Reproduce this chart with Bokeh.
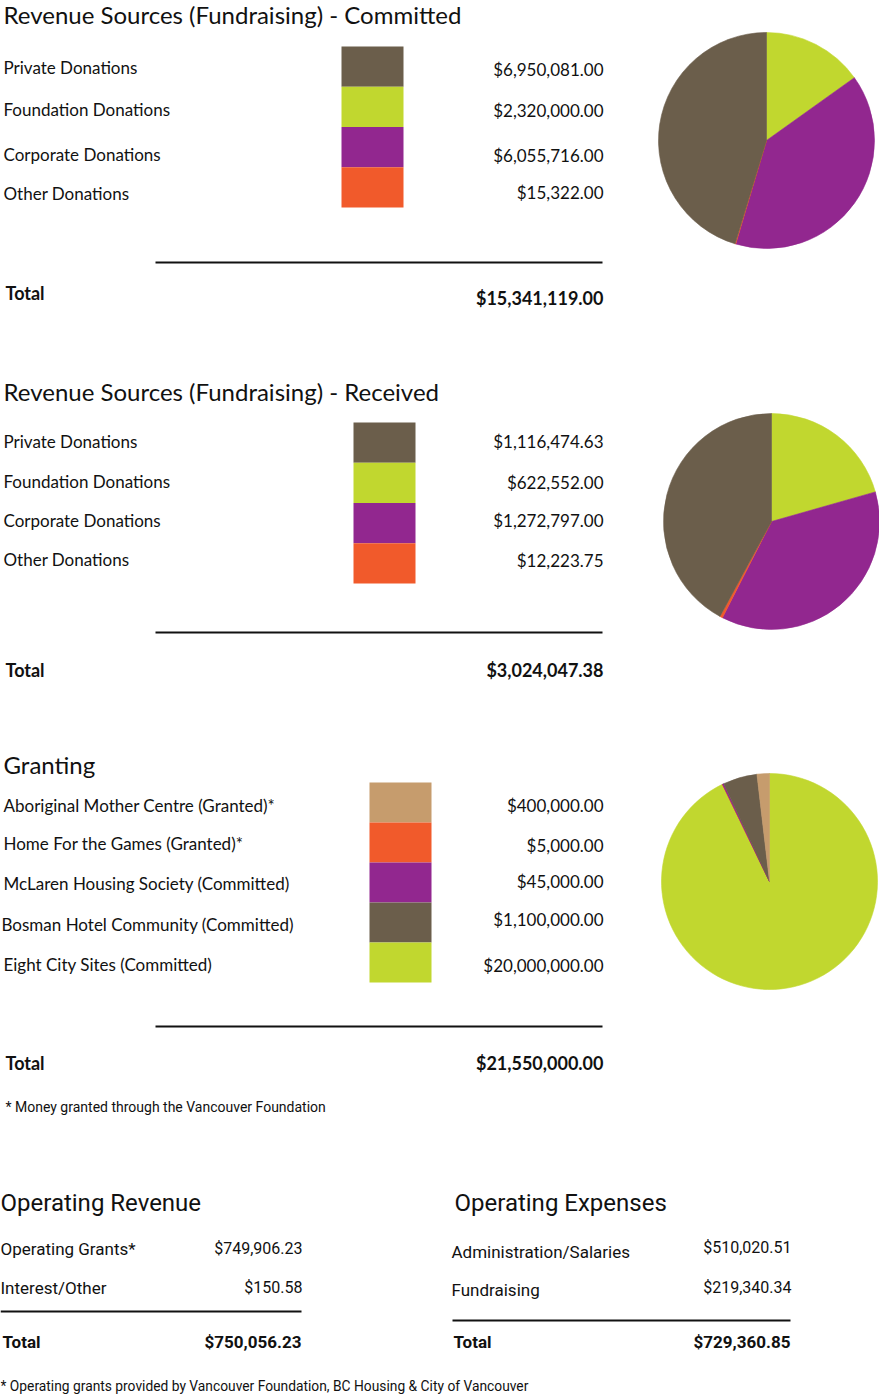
from bokeh.plotting import figure
from bokeh.models import Range1d
from bokeh.core.properties import value
from bokeh.embed import file_html
from bokeh.resources import INLINE
import math

# ---------------- data ----------------
donation_labels = ["Private Donations", "Foundation Donations", "Corporate Donations", "Other Donations"]
committed_values = [6950081.00, 2320000.00, 6055716.00, 15322.00]
committed_total = 15341119.00
received_values = [1116474.63, 622552.00, 1272797.00, 12223.75]
received_total = 3024047.38
donation_colors = ["#6b5e4b", "#c1d72f", "#92278f", "#f15a2b"]
# the received pie in the source shows the private / corporate colours swapped
received_pie_colors = ["#92278f", "#c1d72f", "#6b5e4b", "#f15a2b"]
donation_pie_order = [1, 0, 3, 2]
committed_pie_order = [1, 2, 3, 0]

granting_labels = ["Aboriginal Mother Centre (Granted)*", "Home For the Games (Granted)*",
                   "McLaren Housing Society (Committed)", "Bosman Hotel Community (Committed)",
                   "Eight City Sites (Committed)"]
granting_values = [400000.00, 5000.00, 45000.00, 1100000.00, 20000000.00]
granting_total = 21550000.00
granting_colors = ["#c69c6d", "#f15a2b", "#92278f", "#6b5e4b", "#c1d72f"]
granting_pie_order = [4, 1, 2, 3, 0]

op_rev_labels = ["Operating Grants*", "Interest/Other"]
op_rev_values = [749906.23, 150.58]
op_rev_total = 750056.23
op_exp_labels = ["Administration/Salaries", "Fundraising"]
op_exp_values = [510020.51, 219340.34]
op_exp_total = 729360.85

titles = ["Revenue Sources (Fundraising) - Committed", "Revenue Sources (Fundraising) - Received",
          "Granting", "Operating Revenue", "Operating Expenses"]
footnotes = ["* Money granted through the Vancouver Foundation",
             "* Operating grants provided by Vancouver Foundation, BC Housing & City of Vancouver"]

# ---------------- layout ----------------
W, H = 879, 1395
FONT = "Lato"
COND = "Roboto"
TXT = "#111111"


def Y(py):
    return H - py


def money(v):
    return "${:,.2f}".format(v)


p = figure(width=W, height=H, x_range=Range1d(0, W), y_range=Range1d(0, H),
           x_axis_type=None, y_axis_type=None, toolbar_location=None,
           output_backend="svg", min_border=0)
p.grid.visible = False
p.outline_line_color = None
p.background_fill_color = "white"
p.border_fill_color = "white"


def text(x, y, t, size, font=FONT, bold=False, align="left"):
    p.text(x=[x], y=[Y(y)], text=[t], text_font=value(font), text_font_size=f"{size}px",
           text_font_style="bold" if bold else "normal", text_align=align,
           text_baseline="middle", text_color=TXT)


def section(title, title_y, labels, values, total, colors, pie_colors, order, label_ys, value_ys,
            sw_x, sw_top, sw_h, line_y, total_y, val_total_y, pie_c):
    text(3, title_y, title, 24)
    for lab, ly in zip(labels, label_ys):
        text(3 if not lab.startswith("Bosman") else 1, ly, lab, 17)
    for v, vy in zip(values, value_ys):
        text(603, vy, money(v), 17, align="right")
    n = len(values)
    p.quad(left=[sw_x] * n, right=[sw_x + 62] * n,
           top=[Y(sw_top + i * sw_h) for i in range(n)],
           bottom=[Y(sw_top + (i + 1) * sw_h) for i in range(n)],
           fill_color=colors, line_color=None)
    p.segment(x0=[155], y0=[Y(line_y)], x1=[602], y1=[Y(line_y)], line_color="#111111", line_width=2)
    text(5, total_y, "Total", 18, bold=True)
    text(603, val_total_y, money(total), 18, bold=True, align="right")
    tot = sum(values)
    cum = 0.0
    starts, ends, cols = [], [], []
    for i in order:
        starts.append(math.pi / 2 - 2 * math.pi * cum / tot)
        cum += values[i]
        ends.append(math.pi / 2 - 2 * math.pi * cum / tot)
        cols.append(pie_colors[i])
    k = len(order)
    p.wedge(x=[pie_c[0]] * k, y=[Y(pie_c[1])] * k, radius=108, radius_units="screen",
            start_angle=starts, end_angle=ends, direction="clock",
            fill_color=cols, line_color=cols, line_width=0.6)


section(titles[0], 14, donation_labels, committed_values, committed_total, donation_colors,
        donation_colors, committed_pie_order, [67, 109, 154, 193], [69, 110, 155, 192],
        341, 46, 40.25, 262, 292, 297, (766, 140))
section(titles[1], 391, donation_labels, received_values, received_total, donation_colors,
        received_pie_colors, donation_pie_order, [441, 481, 520, 559], [441, 482, 520, 560],
        353, 422, 40.25, 632, 669, 669, (771, 521))
section(titles[2], 764, granting_labels, granting_values, granting_total, granting_colors,
        granting_colors, granting_pie_order, [805, 843, 883, 924, 964], [805, 845, 881, 919, 965],
        369, 782, 40, 1026, 1062, 1062, (769, 881))
text(5, 1106, footnotes[0], 14, font=COND)

# operating section
text(0, 1202, titles[3], 24, font=COND)
for lab, v, yy in zip(op_rev_labels, op_rev_values, [1248, 1287]):
    text(0, yy, lab, 17, font=COND)
    text(302, yy, money(v), 16, font=COND, align="right")
p.segment(x0=[0], y0=[Y(1311)], x1=[301], y1=[Y(1311)], line_color="#111111", line_width=2)
text(2, 1341, "Total", 17, font=COND, bold=True)
text(301, 1341, money(op_rev_total), 17, font=COND, bold=True, align="right")

text(454, 1202, titles[4], 24, font=COND)
for lab, v, ly, vy in zip(op_exp_labels, op_exp_values, [1251, 1289], [1247, 1287]):
    text(451, ly, lab, 17, font=COND)
    text(791, vy, money(v), 16, font=COND, align="right")
p.segment(x0=[452], y0=[Y(1320)], x1=[790], y1=[Y(1320)], line_color="#111111", line_width=2)
text(453, 1341, "Total", 17, font=COND, bold=True)
text(790, 1341, money(op_exp_total), 17, font=COND, bold=True, align="right")
text(0, 1385, footnotes[1], 13.8, font=COND)

open("out.html", "w").write(file_html(p, INLINE))
